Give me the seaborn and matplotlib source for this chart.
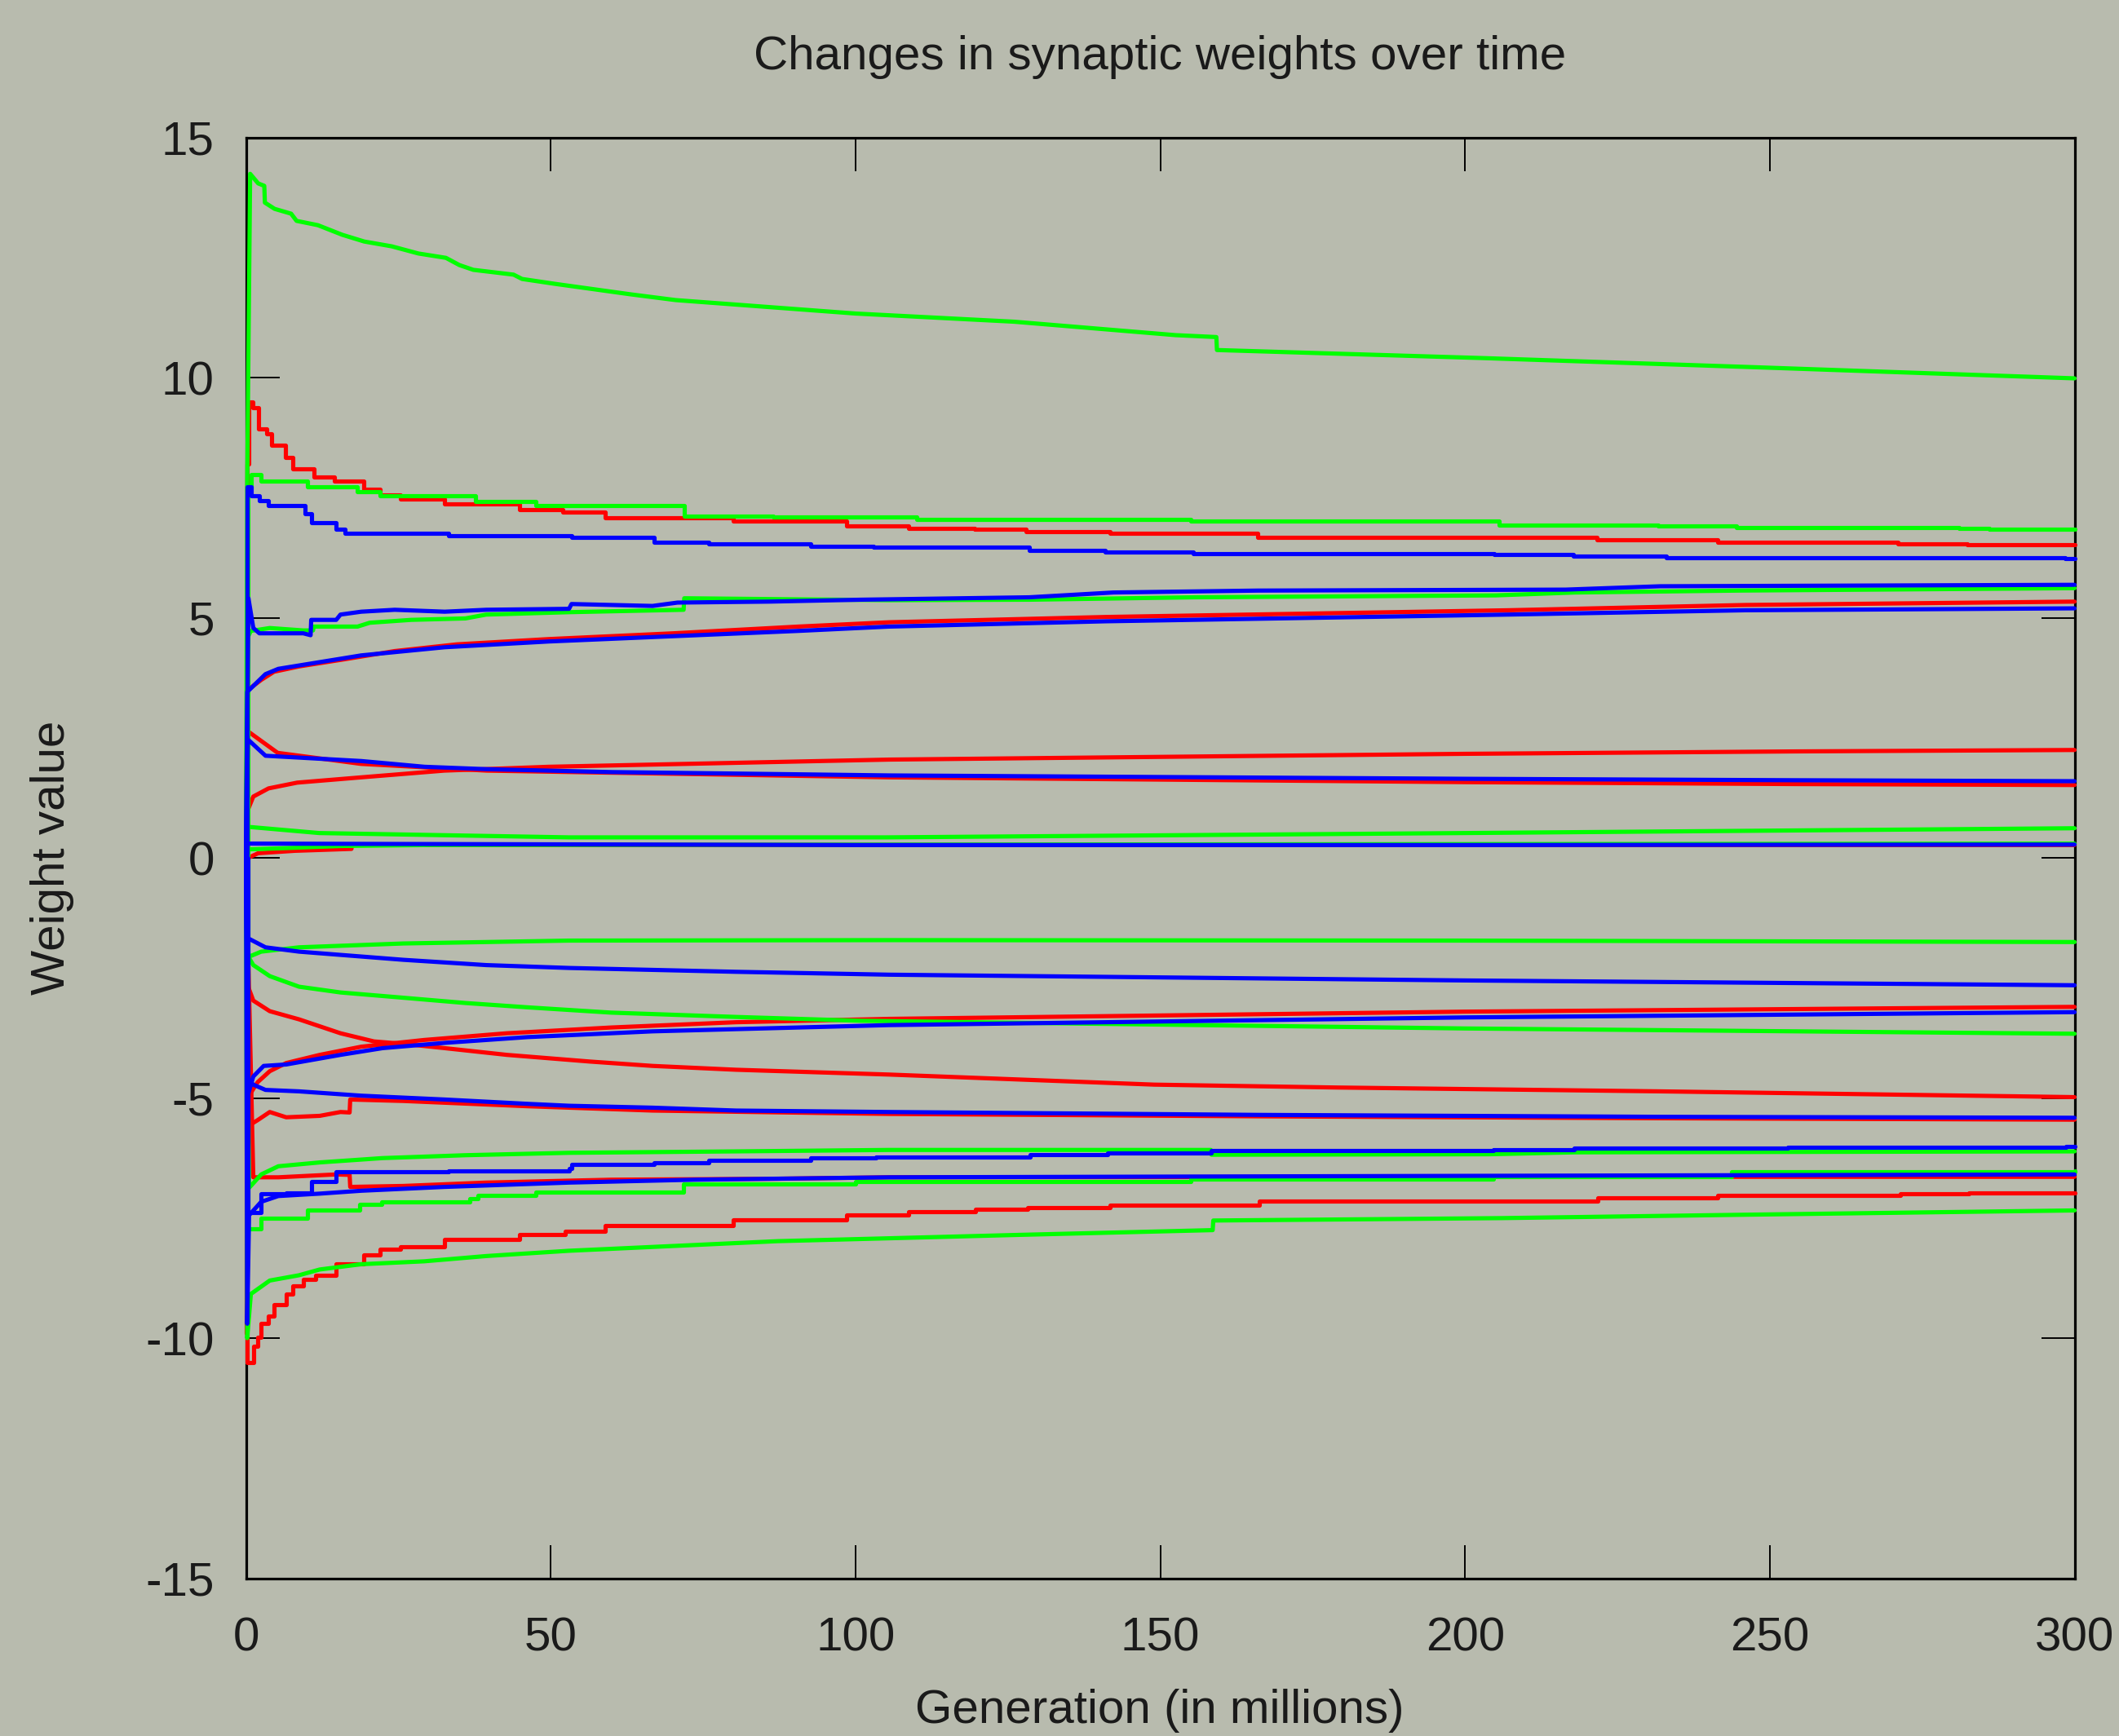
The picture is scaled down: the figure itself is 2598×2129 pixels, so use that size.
import matplotlib
matplotlib.use("Agg")
import matplotlib.pyplot as plt
import seaborn as sns
import pandas as pd

# ---------------- data (x in millions of generations, y = weight) ----------------
R1_X = [0, 0.2, 0.45, 1.1, 2.0, 3.35, 4.25, 6.5, 7.7, 11.1, 14.5, 19.3, 22.0, 25.4, 32.6, 44.9, 52.0, 58.9, 80.0, 98.5, 108.7, 119.6, 128.0, 141.7, 166.0, 221.6, 241.4, 271.0, 282.4, 300]
R1_Y = [0, 8.2, 9.5, 9.38, 8.94, 8.84, 8.6, 8.35, 8.1, 7.93, 7.85, 7.68, 7.56, 7.48, 7.37, 7.25, 7.2, 7.08, 7.01, 6.92, 6.87, 6.84, 6.79, 6.76, 6.68, 6.62, 6.57, 6.55, 6.52, 6.52]
R2_X = [0, 0.2, 2.5, 4.6, 8.7, 16.2, 24.4, 34.6, 49.7, 70.1, 90.6, 105.5, 141, 207, 246, 300]
R2_Y = [0, 3.49, 3.71, 3.88, 3.99, 4.14, 4.31, 4.45, 4.56, 4.68, 4.82, 4.91, 5.02, 5.16, 5.27, 5.34]
R3_X = [0, 0.15, 0.3, 1.2, 3.7, 8.4, 18.9, 32.5, 49.6, 105.6, 200, 254, 300]
R3_Y = [0, 0.6, 1.0, 1.28, 1.45, 1.57, 1.68, 1.82, 1.9, 2.05, 2.17, 2.22, 2.25]
R4_X = [0, 0.3, 5.2, 18.9, 39.5, 105.6, 200, 254, 300]
R4_Y = [0, 2.64, 2.19, 1.96, 1.82, 1.68, 1.58, 1.54, 1.52]
R5_X = [0, 0.2, 1.2, 3.9, 8.7, 15.5, 21, 25.8, 32.6, 42.8, 56.5, 66.7, 80.4, 105.5, 149, 179, 232, 300]
R5_Y = [0, -2.63, -2.97, -3.19, -3.36, -3.65, -3.82, -3.87, -3.96, -4.1, -4.24, -4.33, -4.41, -4.51, -4.72, -4.78, -4.86, -4.98]
R6_X = [0, 0.5, 1.9, 3.9, 6.6, 12.1, 18.9, 29.2, 42.8, 59.9, 80.4, 105.5, 200, 300]
R6_Y = [0, -4.95, -4.67, -4.44, -4.27, -4.1, -3.93, -3.79, -3.65, -3.53, -3.42, -3.35, -3.2, -3.1]
R7_X = [0, 0.5, 1.9, 3.9, 6.6, 12.1, 15.5, 17.0, 17.1, 25.8, 46.2, 66.7, 105.5, 166, 232, 300]
R7_Y = [0, -5.57, -5.46, -5.29, -5.4, -5.37, -5.29, -5.3, -5.03, -5.06, -5.17, -5.26, -5.33, -5.38, -5.42, -5.45]
R8_X = [0, 1.2, 5.3, 14.8, 17.0, 17.1, 25.8, 39.4, 59.9, 87.2, 105.5, 200, 300]
R8_Y = [0, -6.65, -6.65, -6.59, -6.6, -6.85, -6.83, -6.76, -6.7, -6.68, -6.65, -6.64, -6.64]
R9_X = [0, 0.1, 0.2, 1.2, 1.9, 2.5, 3.6, 4.6, 6.6, 7.7, 9.4, 11.4, 14.8, 19.3, 22.0, 25.4, 32.6, 44.9, 52.4, 58.9, 80.0, 98.5, 108.7, 119.7, 128.2, 141.8, 166.3, 221.8, 241.4, 271.4, 282.7, 300]
R9_Y = [0, -9.9, -10.5, -10.16, -9.99, -9.7, -9.54, -9.31, -9.08, -8.91, -8.77, -8.69, -8.46, -8.26, -8.15, -8.09, -7.95, -7.84, -7.78, -7.66, -7.53, -7.44, -7.37, -7.32, -7.28, -7.23, -7.15, -7.07, -7.02, -7.0, -6.97, -6.97]
R10_X = [0, 0.3, 2.0, 8.0, 17.3, 17.4, 300]
R10_Y = [0, 0.0, 0.1, 0.15, 0.19, 0.27, 0.27]

G1_X = [0, 0.2, 0.68, 2.0, 3.0, 3.1, 4.7, 7.4, 8.3, 11.8, 15.8, 19.4, 23.9, 28.3, 32.8, 35, 37.3, 43.9, 45.3, 50.6, 63.1, 70.5, 100, 126, 152.5, 159.2, 159.3, 203.5, 248, 300]
G1_Y = [0, 7.8, 14.25, 14.05, 14.0, 13.65, 13.52, 13.42, 13.27, 13.18, 12.98, 12.84, 12.74, 12.59, 12.5, 12.35, 12.25, 12.15, 12.06, 11.96, 11.74, 11.62, 11.34, 11.17, 10.89, 10.85, 10.58, 10.41, 10.22, 9.99]
G2_X = [0, 0.3, 0.8, 2.5, 10.1, 18.3, 22.0, 37.7, 47.6, 71.9, 86.5, 110, 155, 205.6, 231.7, 244.5, 281, 286, 300]
G2_Y = [0, 7.7, 7.99, 7.85, 7.73, 7.63, 7.55, 7.42, 7.34, 7.12, 7.1, 7.06, 7.01, 6.94, 6.92, 6.89, 6.87, 6.85, 6.85]
G3_X = [0, 0.3, 0.8, 3.9, 9.4, 11.0, 11.1, 18.3, 20.3, 27.1, 36.0, 39.4, 53.0, 71.8, 71.9, 105.5, 128.7, 155.6, 205, 218, 245, 300]
G3_Y = [0, 4.6, 4.73, 4.79, 4.74, 4.74, 4.82, 4.82, 4.9, 4.96, 4.99, 5.07, 5.12, 5.17, 5.41, 5.37, 5.38, 5.43, 5.47, 5.53, 5.57, 5.62]
G4_X = [0, 0.4, 2.5, 8.7, 25.8, 53, 105.5, 200, 300]
G4_Y = [0, -2.06, -1.95, -1.86, -1.78, -1.72, -1.71, -1.72, -1.75]
G5_X = [0, 0.4, 1.2, 3.9, 8.7, 15.5, 25.8, 36, 46.2, 59.9, 80.4, 100.9, 200, 300]
G5_Y = [0, -2.06, -2.23, -2.46, -2.68, -2.8, -2.91, -3.02, -3.11, -3.22, -3.31, -3.39, -3.55, -3.66]
G6_X = [0, 0.5, 2.5, 5.3, 12.1, 22.4, 36, 53, 80.4, 105.5, 158.3, 158.4, 204, 218, 300]
G6_Y = [0, -6.87, -6.59, -6.42, -6.34, -6.25, -6.19, -6.14, -6.11, -6.08, -6.08, -6.18, -6.17, -6.13, -6.11]
G7_X = [0, 0.3, 2.5, 10.1, 18.6, 22.3, 36.7, 38.1, 47.6, 71.8, 100, 155, 204.6, 243.7, 300]
G7_Y = [0, -7.72, -7.5, -7.34, -7.21, -7.16, -7.1, -7.02, -6.96, -6.79, -6.73, -6.68, -6.64, -6.53, -6.51]
G8_X = [0, 0.2, 0.8, 3.9, 8.7, 12.1, 18.9, 29.2, 39.4, 53, 73.6, 87.2, 105.5, 126.6, 158.6, 158.7, 206, 245.6, 300]
G8_Y = [0, -10.0, -9.08, -8.8, -8.69, -8.57, -8.46, -8.4, -8.29, -8.18, -8.06, -7.98, -7.92, -7.85, -7.75, -7.55, -7.5, -7.43, -7.34]
G9_X = [0, 0.3, 12, 53, 105, 200, 300]
G9_Y = [0, 0.65, 0.52, 0.43, 0.43, 0.52, 0.62]
G10_X = [0, 0.3, 5.2, 15.5, 30, 300]
G10_Y = [0, 0.18, 0.2, 0.25, 0.27, 0.3]

B1_X = [0, 0.2, 0.8, 2.2, 3.6, 9.7, 10.7, 14.8, 16.3, 33.3, 53.4, 67, 75.9, 92.7, 103, 128.5, 141, 155.4, 204.8, 217.8, 233, 298.5, 300]
B1_Y = [0, 7.73, 7.54, 7.45, 7.34, 7.17, 6.99, 6.84, 6.76, 6.71, 6.67, 6.58, 6.55, 6.5, 6.47, 6.41, 6.37, 6.34, 6.32, 6.29, 6.26, 6.23, 6.23]
B2_X = [0, 0.4, 1.2, 2.2, 9.4, 10.6, 10.7, 14.8, 15.5, 18.9, 24.4, 32.6, 39.4, 53.0, 53.4, 66.7, 70.8, 85.8, 100.9, 128.5, 142.3, 166, 216.5, 232, 300]
B2_Y = [0, 5.41, 4.79, 4.68, 4.68, 4.64, 4.96, 4.96, 5.07, 5.13, 5.17, 5.13, 5.17, 5.19, 5.29, 5.25, 5.32, 5.34, 5.38, 5.43, 5.53, 5.57, 5.59, 5.66, 5.69]
B3_X = [0, 0.2, 3.2, 5.3, 12.1, 18.9, 32.6, 49.7, 70.1, 90.6, 105.5, 141, 207, 246, 300]
B3_Y = [0, 3.46, 3.83, 3.94, 4.08, 4.22, 4.39, 4.51, 4.62, 4.73, 4.82, 4.93, 5.07, 5.16, 5.2]
B4_X = [0, 0.3, 3.2, 18.9, 29.3, 39.5, 60, 105.6, 200, 254, 300]
B4_Y = [0, 2.47, 2.13, 2.02, 1.9, 1.85, 1.79, 1.72, 1.65, 1.62, 1.6]
B5_X = [0, 0.16, 3.2, 8.7, 25.8, 39.4, 53, 80.4, 105.5, 200, 300]
B5_Y = [0, -1.66, -1.86, -1.95, -2.12, -2.23, -2.29, -2.37, -2.43, -2.55, -2.65]
B6_X = [0, 0.4, 1.2, 2.9, 6.6, 15.5, 22.4, 32.6, 46.2, 66.7, 105.5, 200, 300]
B6_Y = [0, -4.9, -4.55, -4.33, -4.3, -4.1, -3.96, -3.85, -3.73, -3.61, -3.48, -3.32, -3.21]
B7_X = [0, 0.3, 1.2, 3.2, 8.7, 18.9, 32.6, 46.2, 53, 66.7, 80.4, 105.5, 166, 232, 300]
B7_Y = [0, -4.6, -4.72, -4.83, -4.86, -4.95, -5.03, -5.12, -5.16, -5.2, -5.26, -5.29, -5.35, -5.39, -5.41]
B8_X = [0, 0.3, 2.5, 6.6, 10.7, 14.8, 33.3, 53.0, 53.4, 67, 75.9, 92.7, 103.3, 128.6, 141.4, 158.4, 204.6, 217.9, 252.9, 298.6, 300]
B8_Y = [0, -7.38, -7.0, -6.97, -6.73, -6.53, -6.51, -6.47, -6.38, -6.34, -6.3, -6.25, -6.22, -6.18, -6.14, -6.1, -6.07, -6.04, -6.02, -6.0, -6.0]
B9_X = [0, 0.2, 0.5, 2.5, 5.3, 12.1, 18.9, 32.6, 53, 73.6, 105.5, 200, 300]
B9_Y = [0, -9.7, -7.44, -7.16, -7.04, -6.99, -6.93, -6.85, -6.76, -6.7, -6.65, -6.62, -6.59]
B10_X = [0, 0.3, 100, 200, 300]
B10_Y = [0, 0.3, 0.27, 0.27, 0.28]

X_TICKS = [0, 50, 100, 150, 200, 250, 300]
Y_TICKS = [-15, -10, -5, 0, 5, 10, 15]
TITLE = "Changes in synaptic weights over time"
X_LABEL = "Generation (in millions)"
Y_LABEL = "Weight value"

RED, GREEN, BLUE = "#ff0000", "#00ff00", "#0000ff"
STEP, LIN = "steps-post", "default"

series = [
    (R1_X, R1_Y, RED, STEP), (R2_X, R2_Y, RED, LIN), (R3_X, R3_Y, RED, LIN),
    (R4_X, R4_Y, RED, LIN), (R5_X, R5_Y, RED, LIN), (R6_X, R6_Y, RED, LIN),
    (R7_X, R7_Y, RED, LIN), (R8_X, R8_Y, RED, LIN), (R9_X, R9_Y, RED, STEP),
    (R10_X, R10_Y, RED, LIN),
    (G1_X, G1_Y, GREEN, LIN), (G2_X, G2_Y, GREEN, STEP), (G3_X, G3_Y, GREEN, LIN),
    (G4_X, G4_Y, GREEN, LIN), (G5_X, G5_Y, GREEN, LIN), (G6_X, G6_Y, GREEN, LIN),
    (G7_X, G7_Y, GREEN, STEP), (G8_X, G8_Y, GREEN, LIN), (G9_X, G9_Y, GREEN, LIN),
    (G10_X, G10_Y, GREEN, LIN),
    (B1_X, B1_Y, BLUE, STEP), (B2_X, B2_Y, BLUE, LIN), (B3_X, B3_Y, BLUE, LIN),
    (B4_X, B4_Y, BLUE, LIN), (B5_X, B5_Y, BLUE, LIN), (B6_X, B6_Y, BLUE, LIN),
    (B7_X, B7_Y, BLUE, LIN), (B8_X, B8_Y, BLUE, STEP), (B9_X, B9_Y, BLUE, LIN),
    (B10_X, B10_Y, BLUE, LIN),
]

# ---------------- style ----------------
sns.set_style("white")
plt.rcParams["font.family"] = ["Liberation Sans", "DejaVu Sans"]
plt.rcParams["axes.unicode_minus"] = False

BG = "#b8bbae"
TXT = "#1a1a1a"
W, H = 2598, 2129
fig = plt.figure(figsize=(W / 100, H / 100), dpi=100, facecolor=BG)
L, R, T, B = 301.6, 2543.5, 169, 1935.5
ax = fig.add_axes([L / W, 1 - B / H, (R - L) / W, (B - T) / H])
ax.set_facecolor("none")

for xs, ys, col, ds in series:
    df = pd.DataFrame({"x": xs, "y": ys})
    sns.lineplot(data=df, x="x", y="y", ax=ax, color=col, lw=3.7,
                 estimator=None, sort=False, drawstyle=ds, zorder=3, clip_on=False)

ax.set_xlim(0, 300)
ax.set_ylim(-15, 15)
ax.set_xticks(X_TICKS)
ax.set_yticks(Y_TICKS)
ax.set_xticklabels([str(v) for v in X_TICKS])
ax.set_yticklabels([str(v) for v in Y_TICKS])
ax.set_xlabel("")
ax.set_ylabel("")
for s in ax.spines.values():
    s.set_visible(True)
    s.set_color("black")
    s.set_linewidth(2.3)
ax.tick_params(axis="both", which="major", direction="in", length=29.5, width=1.4,
               color="black", bottom=True, left=True, top=True, right=True,
               labelbottom=True, labelleft=True, labelsize=42, labelcolor=TXT)
ax.tick_params(axis="x", pad=34)
ax.tick_params(axis="y", pad=28)

fig.text(1422 / W, 1 - 70 / H, TITLE, ha="center", va="center", fontsize=42, color=TXT)
fig.text(64 / W, 1 - 1052 / H, Y_LABEL, ha="center", va="center", rotation=90,
         fontsize=42, color=TXT)
fig.text(1422 / W, 4 / H, X_LABEL, ha="center", va="bottom", fontsize=42, color=TXT)

fig.savefig("out.png", dpi=100, facecolor=BG)
